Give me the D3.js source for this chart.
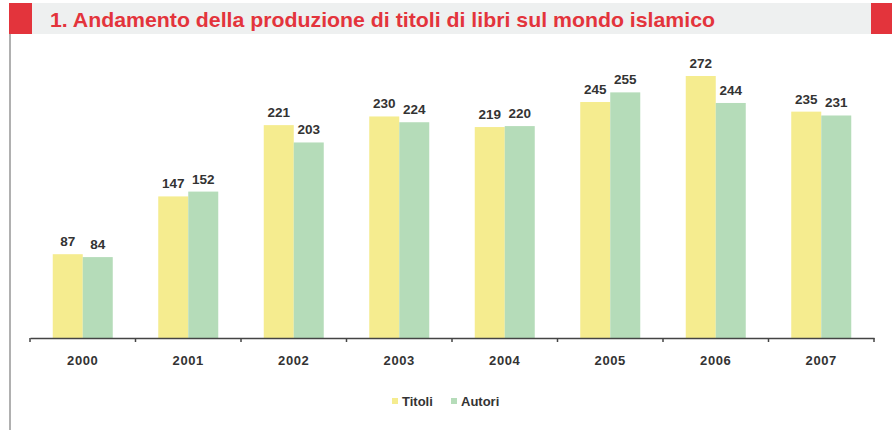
<!DOCTYPE html>
<html>
<head>
<meta charset="utf-8">
<script src="https://cdn.jsdelivr.net/npm/d3@7"></script>
<style>
  body { margin: 0; background: #fff; }
  svg { display: block; }
</style>
</head>
<body>
<svg width="892" height="430"></svg>
<script>
const svg = d3.select("svg");
const width = +svg.attr("width");
const height = +svg.attr("height");

const years = ["2000", "2001", "2002", "2003", "2004", "2005", "2006", "2007"];
const titoli = [87, 147, 221, 230, 219, 245, 272, 235];
const autori = [84, 152, 203, 224, 220, 255, 244, 231];
const seriesNames = ["Titoli", "Autori"];
const colors = ["#f5ec8f", "#b5dcb9"];

const title = "1.  Andamento della produzione di titoli di libri sul mondo islamico";

// header band
svg.append("rect")
    .attr("x", 9).attr("y", 3)
    .attr("width", width - 9).attr("height", 31)
    .attr("fill", "#eef0f0");
svg.append("rect")
    .attr("x", 9).attr("y", 3)
    .attr("width", 23).attr("height", 31)
    .attr("fill", "#e3343c");
svg.append("rect")
    .attr("x", 871).attr("y", 3)
    .attr("width", 21).attr("height", 31)
    .attr("fill", "#e3343c");
svg.append("text")
    .attr("x", 50).attr("y", 27)
    .attr("font-family", "'Liberation Sans', Arial, sans-serif")
    .attr("font-weight", "bold")
    .attr("font-size", 21)
    .attr("textLength", 665)
    .attr("lengthAdjust", "spacingAndGlyphs")
    .attr("fill", "#e3343c")
    .text(title);

// left rule
svg.append("line")
    .attr("x1", 10).attr("y1", 34)
    .attr("x2", 10).attr("y2", height)
    .attr("stroke", "#b0b0b0")
    .attr("stroke-width", 2);

const x0 = d3.scaleBand()
    .domain(years)
    .range([30, 874]);

const x1 = d3.scaleBand()
    .domain(seriesNames)
    .range([0, 60]);

const y = d3.scaleLinear()
    .domain([0, 272])
    .range([338, 76]);

const rows = years.map((yr, i) => ({ year: yr, values: [titoli[i], autori[i]] }));

const groups = svg.append("g")
    .selectAll("g")
    .data(rows)
    .join("g")
    .attr("transform", d => `translate(${x0(d.year) + (x0.bandwidth() - 60) / 2},0)`);

groups.selectAll("rect")
    .data(d => d.values.map((v, j) => ({ name: seriesNames[j], value: v, j: j })))
    .join("rect")
    .attr("x", d => x1(d.name))
    .attr("y", d => y(d.value))
    .attr("width", x1.bandwidth())
    .attr("height", d => y(0) - y(d.value))
    .attr("fill", d => colors[d.j]);

groups.selectAll("text")
    .data(d => d.values.map((v, j) => ({ name: seriesNames[j], value: v })))
    .join("text")
    .attr("x", d => x1(d.name) + x1.bandwidth() / 2)
    .attr("y", d => y(d.value) - 8)
    .attr("text-anchor", "middle")
    .attr("font-family", "'Liberation Sans', Arial, sans-serif")
    .attr("font-weight", "bold")
    .attr("font-size", 13.5)
    .attr("fill", "#333")
    .text(d => d.value);

// x axis
const axis = svg.append("g")
    .attr("transform", "translate(0,338)")
    .call(d3.axisBottom(x0).tickSize(0).tickPadding(18));
axis.select(".domain").attr("stroke", "#444").attr("stroke-width", 1.5);
axis.selectAll("text")
    .attr("font-family", "'Liberation Sans', Arial, sans-serif")
    .attr("font-weight", "bold")
    .attr("font-size", 13)
    .attr("letter-spacing", 0.6)
    .attr("fill", "#333");

// band boundary ticks
const bounds = years.map(d => x0(d)).concat([x0(years[years.length - 1]) + x0.bandwidth()]);
axis.selectAll(".bound")
    .data(bounds)
    .join("line")
    .attr("class", "bound")
    .attr("x1", d => d).attr("x2", d => d)
    .attr("y1", 0).attr("y2", 4)
    .attr("stroke", "#444")
    .attr("stroke-width", 1.5);

// legend
const legend = svg.append("g")
    .attr("font-family", "'Liberation Sans', Arial, sans-serif")
    .attr("font-weight", "bold")
    .attr("font-size", 13)
    .attr("fill", "#333");
const legendX = [392, 451];
seriesNames.forEach((name, i) => {
    legend.append("rect")
        .attr("x", legendX[i]).attr("y", 398)
        .attr("width", 6).attr("height", 6)
        .attr("fill", colors[i]);
    legend.append("text")
        .attr("x", legendX[i] + 10).attr("y", 406)
        .text(name);
});
</script>
</body>
</html>
